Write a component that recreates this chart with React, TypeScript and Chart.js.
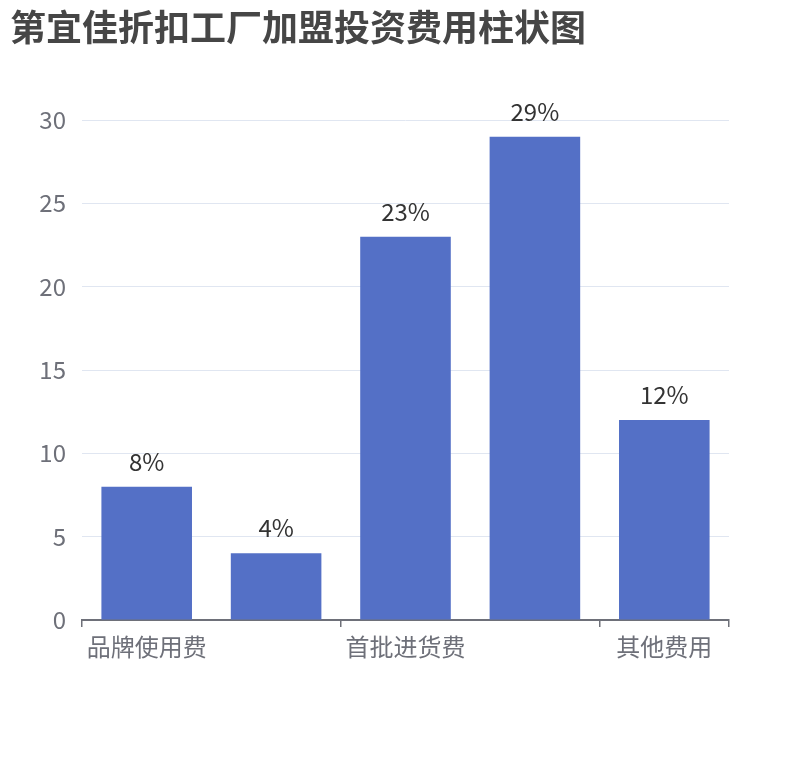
import React, { useEffect, useRef } from "react";
import { Chart, registerables } from "chart.js";

Chart.register(...registerables);

const TITLE = "第宜佳折扣工厂加盟投资费用柱状图";
const categories = ["品牌使用费", "加盟保证金", "首批进货费", "店铺装修费", "其他费用"];
const values = [8, 4, 23, 29, 12];
const valueLabels = ["8%", "4%", "23%", "29%", "12%"];
const yTicks = [0, 5, 10, 15, 20, 25, 30];

const FONT = '"Noto Sans CJK SC", "Noto Sans", sans-serif';

const titlePlugin = {
  id: "customTitle",
  afterDraw(chart: any) {
    const ctx = chart.ctx;
    ctx.save();
    ctx.font = `bold 36px ${FONT}`;
    ctx.fillStyle = "#464646";
    ctx.textAlign = "left";
    ctx.textBaseline = "middle";
    ctx.fillText(TITLE, 10, 27);
    ctx.restore();
  },
};

const barLabelPlugin = {
  id: "barLabels",
  afterDatasetsDraw(chart: any) {
    const ctx = chart.ctx;
    const meta = chart.getDatasetMeta(0);
    ctx.save();
    ctx.font = `24px ${FONT}`;
    ctx.fillStyle = "#333333";
    ctx.textAlign = "center";
    ctx.textBaseline = "middle";
    meta.data.forEach((bar: any, i: number) => {
      ctx.fillText(valueLabels[i], bar.x, bar.y - 25);
    });
    ctx.restore();
  },
};

export default function App() {
  const ref = useRef<HTMLCanvasElement>(null);
  useEffect(() => {
    if (!ref.current) return;
    const chart = new Chart(ref.current, {
      type: "bar",
      data: {
        labels: categories,
        datasets: [
          {
            data: values,
            backgroundColor: "#5470c6",
            barPercentage: 0.7,
            categoryPercentage: 1,
          },
        ],
      },
      options: {
        animation: false,
        responsive: false,
        devicePixelRatio: 1,
        layout: { padding: { left: 0, right: 81, top: 120, bottom: 80 } },
        plugins: {
          legend: { display: false },
          title: { display: false },
          tooltip: { enabled: false },
        },
        scales: {
          x: {
            offset: true,
            afterFit: (scale: any) => {
              scale.height = 60;
            },
            border: { display: true, color: "#6e7079", width: 2 },
            grid: {
              offset: true,
              drawOnChartArea: false,
              drawTicks: true,
              tickLength: 7,
              lineWidth: 1.5,
              color: (ctx: any) =>
                ctx.type === "tick" && ctx.index % 2 === 1 ? "rgba(0,0,0,0)" : "#6e7079",
            },
            ticks: {
              autoSkip: false,
              maxRotation: 0,
              padding: 5,
              color: "#6e7079",
              font: { size: 24, family: FONT },
              callback: (_v: any, i: number) => (i % 2 === 0 ? categories[i] : ""),
            },
          },
          y: {
            min: yTicks[0],
            max: yTicks[yTicks.length - 1],
            afterFit: (scale: any) => {
              scale.width = 82;
            },
            afterBuildTicks: (scale: any) => {
              scale.ticks = yTicks.map((v) => ({ value: v }));
            },
            border: { display: false },
            grid: { color: "#e0e6f1", drawTicks: false, lineWidth: 1 },
            ticks: {
              padding: 16,
              color: "#6e7079",
              font: { size: 24, family: FONT },
            },
          },
        },
      },
      plugins: [titlePlugin, barLabelPlugin],
    });
    return () => chart.destroy();
  }, []);
  return (
    <div style={{ position: "absolute", left: 0, top: 0, width: 810, height: 760, background: "#fff" }}>
      <canvas ref={ref} width={810} height={760} />
    </div>
  );
}
